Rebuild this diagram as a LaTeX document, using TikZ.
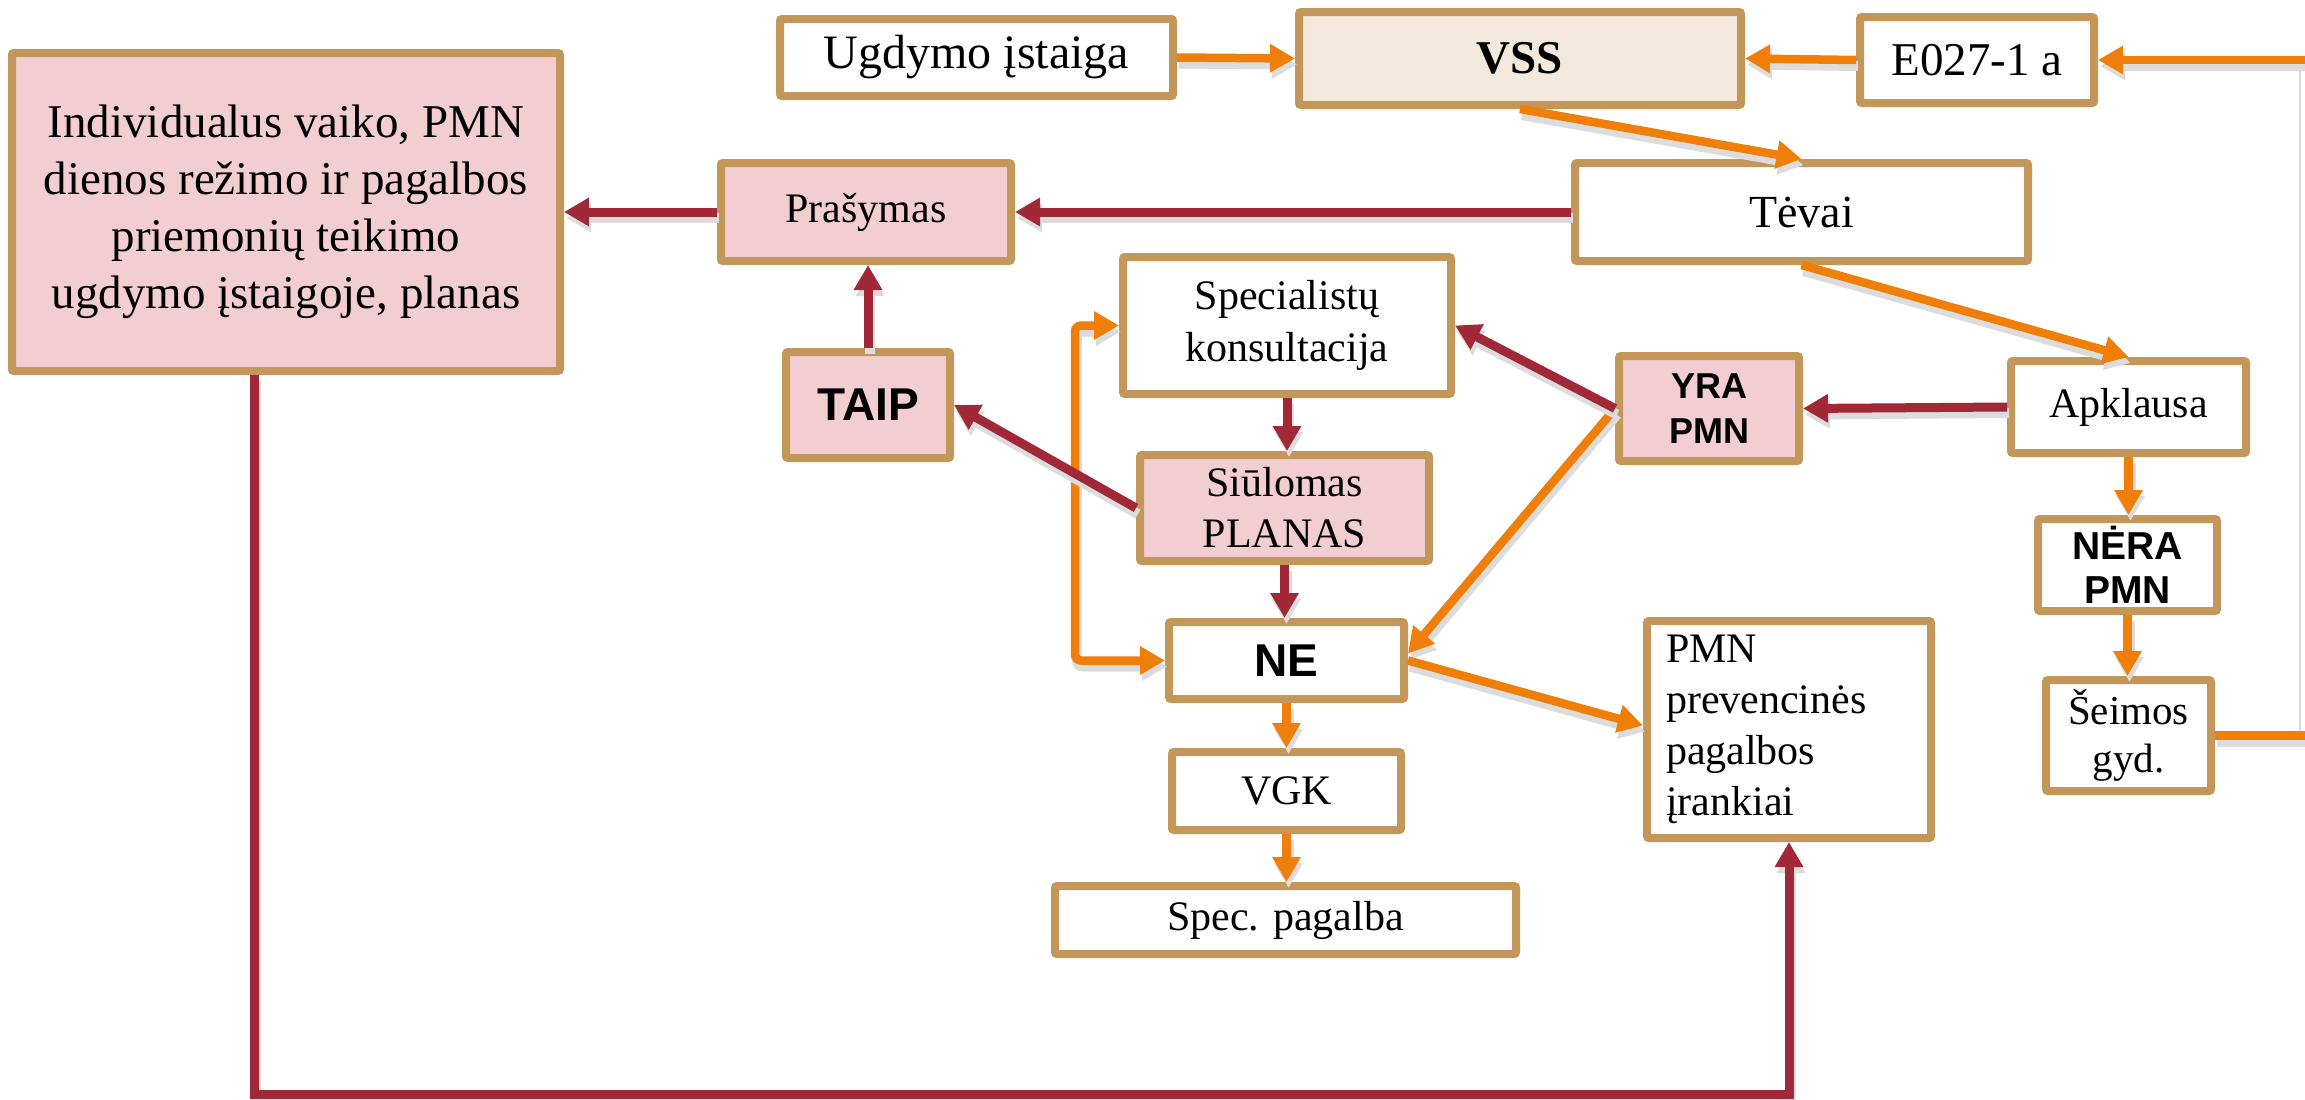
\documentclass[tikz,border=0pt]{standalone}
\usepackage{fontspec}
\setmainfont{Liberation Serif}
\newfontfamily\sansbf{Liberation Sans Bold}
\usetikzlibrary{arrows.meta,calc}
\definecolor{bordc}{HTML}{C3975A}
\definecolor{pinkc}{HTML}{F2CED3}
\definecolor{beigec}{HTML}{F2E9DC}
\definecolor{orangec}{HTML}{F07F0A}
\definecolor{redc}{HTML}{A12837}
\definecolor{shdc}{HTML}{DCDCDC}
\begin{document}
\begin{tikzpicture}[x=1pt,y=-1pt,
  box/.style={draw=bordc, line width=8pt, rounded corners=2pt, fill=white, inner sep=0pt, align=center, font=\fontsize{42}{51}\selectfont},
  pinkbox/.style={box, fill=pinkc},
  sansbox/.style={font=\sansbf\fontsize{36}{45}\selectfont},
  shd/.style={preaction={draw=shdc, line width=10pt, transform canvas={xshift=2pt, yshift=-6pt}}},
  oarr/.style={shd, draw=orangec, line width=8.5pt, -{Triangle[length=25pt,width=27pt]}},
  rarr/.style={shd, draw=redc, line width=9pt, -{Triangle[length=25pt,width=27pt]}},
]
\useasboundingbox (0,0) rectangle (2305,1100);
\fill[white] (0,0) rectangle (2305,1100);
\draw[black!15, line width=2pt] (2300,66) -- (2300,738);

% boxes
\node[pinkbox, minimum width=548pt, minimum height=318pt, font=\fontsize{47}{57}\selectfont] (big) at (286,212) {Individualus vaiko, PMN\\dienos režimo ir pagalbos\\priemonių teikimo\\ugdymo įstaigoje, planas};
\node[box, minimum width=393pt, minimum height=77pt, font=\fontsize{48}{57}\selectfont] (ugd) at (976.5,57.5) {Ugdymo įstaiga};
\node[box, fill=beigec, minimum width=442pt, minimum height=93pt, font=\bfseries\fontsize{47}{57}\selectfont] (vss) at (1520,58.5) {VSS};
\node[box, minimum width=234pt, minimum height=86pt, font=\fontsize{47}{57}\selectfont] (e027) at (1977,60) {E027-1 a};
\node[pinkbox, minimum width=290pt, minimum height=98pt] (pras) at (866,212) {Prašymas};
\node[box, minimum width=453pt, minimum height=98pt, font=\fontsize{46}{55}\selectfont] (tevai) at (1801.5,212) {Tėvai};
\node[box, minimum width=328pt, minimum height=137pt, font=\fontsize{42}{52}\selectfont] (spec) at (1287,325.5) {Specialistų\\konsultacija};
\node[pinkbox, minimum width=164pt, minimum height=106pt, font=\sansbf\fontsize{46}{55}\selectfont] (taip) at (868,405) {TAIP};
\node[pinkbox, minimum width=180pt, minimum height=105pt, sansbox] (yra) at (1709,408.5) {YRA\\PMN};
\node[box, minimum width=235pt, minimum height=92pt] (apkl) at (2128.5,407) {Apklausa};
\node[box, minimum width=179pt, minimum height=92pt, font=\sansbf\fontsize{39}{44}\selectfont] (nera) at (2127.5,565) {NĖRA\\PMN};
\node[box, minimum width=165pt, minimum height=111pt, font=\fontsize{41}{48}\selectfont] (seim) at (2128.5,735.5) {Šeimos\\gyd.};
\node[pinkbox, minimum width=289pt, minimum height=106pt] (siul) at (1284.5,508) {Siūlomas\\PLANAS};
\node[box, minimum width=235pt, minimum height=77pt, font=\sansbf\fontsize{46}{55}\selectfont] (ne) at (1286.5,660.5) {NE};
\node[box, minimum width=229pt, minimum height=78pt] (vgk) at (1286.5,791) {VGK};
\node[box, minimum width=461pt, minimum height=68pt] (specp) at (1285.5,920) {Spec. pagalba};
\node[box, minimum width=284pt, minimum height=217pt, text width=246pt, inner xsep=19pt, align=left] (pmnp) at (1789,729.5) {PMN\\prevencinės\\pagalbos\\įrankiai};

% orange connectors
\draw[oarr] (ugd.east) -- (vss.west);
\draw[oarr] (e027.west) -- (vss.east);
\draw[oarr] (seim.east) -- ++(95,0) |- (e027.east);
\draw[oarr] (vss.south) -- (tevai.north);
\draw[oarr] (tevai.south) -- (apkl.north);
\draw[oarr] (apkl.south) -- (apkl.south |- nera.north);
\draw[oarr] (nera.south) -- (nera.south |- seim.north);
\draw[oarr] (yra.west) -- ($(ne.east)+(0,-7)$);
\draw[oarr] (ne.east) -- ($(pmnp.west)+(0,-4)$);
\draw[oarr] (ne.south) -- (ne.south |- vgk.north);
\draw[oarr] (vgk.south) -- (vgk.south |- specp.north);
\draw[oarr, {Triangle[length=25pt,width=27pt]}-{Triangle[length=25pt,width=27pt]}, rounded corners=6pt] (spec.west) -- ++(-44,0) |- (ne.west);

% red connectors
\draw[rarr] (tevai.west) -- (pras.east);
\draw[rarr] (pras.west) -- (big.east);
\draw[rarr] (taip.north) -- (taip.north |- pras.south);
\draw[rarr] (siul.west) -- (taip.east);
\draw[rarr] (spec.south) -- (spec.south |- siul.north);
\draw[rarr] (siul.south) -- (siul.south |- ne.north);
\draw[rarr] (yra.west) -- (spec.east);
\draw[rarr] (apkl.west) -- (yra.east);
\draw[rarr] ([xshift=-32pt]big.south) -- ++(0,719) -| (pmnp.south);
\end{tikzpicture}
\end{document}
